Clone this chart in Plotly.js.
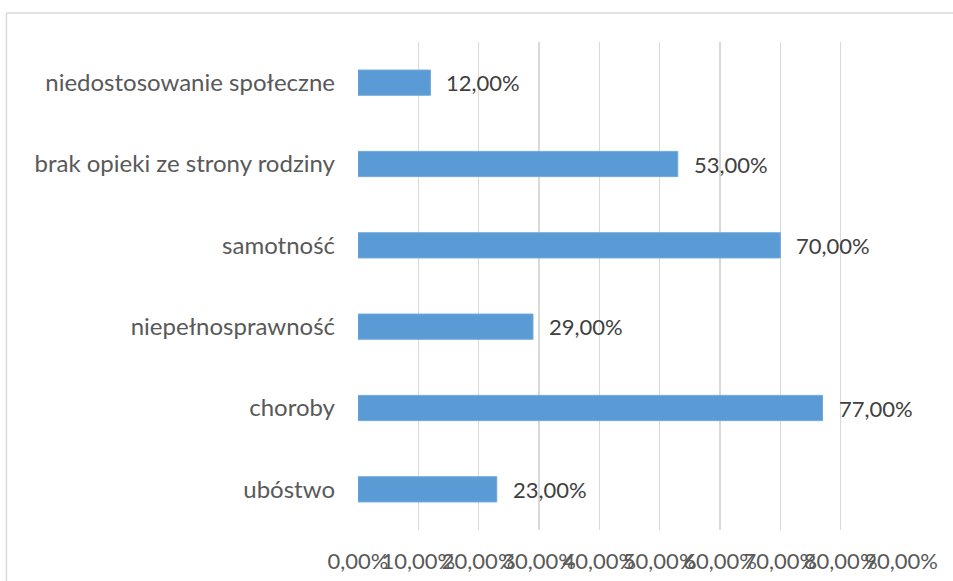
<!DOCTYPE html>
<html>
<head>
<meta charset="utf-8">
<script src="https://cdn.plot.ly/plotly-3.0.1.min.js"></script>
<style>html,body{margin:0;padding:0;background:#fff;}#chart{width:953px;height:581px;}</style>
</head>
<body>
<div id="chart"></div>
<script>
const categories = ["ubóstwo", "choroby", "niepełnosprawność", "samotność", "brak opieki ze strony rodziny", "niedostosowanie społeczne"];
const values = [0.23, 0.77, 0.29, 0.70, 0.53, 0.12];
const tickValues = [0, 0.1, 0.2, 0.3, 0.4, 0.5, 0.6, 0.7, 0.8, 0.9];
const tickLabels = ["0,00%", "10,00%", "20,00%", "30,00%", "40,00%", "50,00%", "60,00%", "70,00%", "80,00%", "90,00%"];
const valueLabels = ["23,00%", "77,00%", "29,00%", "70,00%", "53,00%", "12,00%"];

const trace = {
  type: "bar",
  orientation: "h",
  x: values,
  y: categories,
  marker: {color: "#5B9BD5", line: {color: "#6FA8DC", width: 1}},
  hoverinfo: "none"
};

const annotations = categories.map((c, i) => ({
  x: values[i], y: c, xref: "x", yref: "y",
  text: valueLabels[i], showarrow: false,
  xanchor: "left", yanchor: "middle", xshift: 14,
  font: {family: "Lato, sans-serif", size: 22, color: "#404040"}
}));

const layout = {
  width: 953, height: 581,
  margin: {l: 357.5, r: 51.5, t: 41.5, b: 51},
  paper_bgcolor: "#fff", plot_bgcolor: "#fff",
  showlegend: false,
  bargap: 0.69,
  xaxis: {
    range: [0, 0.9000001],
    tickvals: tickValues, ticktext: tickLabels,
    tickangle: 0,
    showgrid: true, gridcolor: "#D9D9D9", gridwidth: 1.5,
    zeroline: false, showline: false, ticks: "",
    ticklabelstandoff: 16,
    tickfont: {family: "Lato, sans-serif", size: 22, color: "#595959"},
    fixedrange: true
  },
  yaxis: {
    type: "category",
    categoryorder: "array", categoryarray: categories,
    showgrid: false, zeroline: false, showline: false, ticks: "",
    ticklabelstandoff: 22,
    tickfont: {family: "Lato, sans-serif", size: 24, color: "#595959"},
    fixedrange: true
  },
  annotations: annotations,
  shapes: [
    {type: "line", xref: "paper", yref: "paper", x0: -0.6475, x1: 1.2, y0: 1.0593, y1: 1.0593, line: {color: "#D9D9D9", width: 1.5}},
    {type: "line", xref: "paper", yref: "paper", x0: -0.6475, x1: -0.6475, y0: 1.0593, y1: -0.2, line: {color: "#D9D9D9", width: 1.5}}
  ]
};

Plotly.newPlot("chart", [trace], layout, {displayModeBar: false, staticPlot: true});
</script>
</body>
</html>
